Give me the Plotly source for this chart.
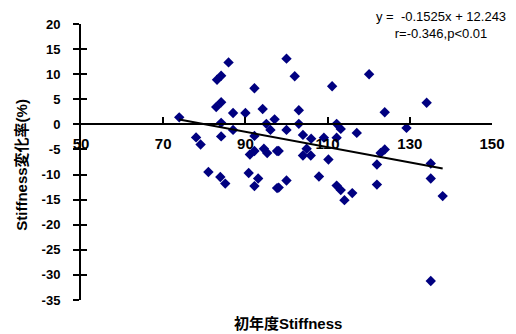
import plotly.graph_objects as go

# Data
stiffness_initial = [
    73.9, 78.0, 79.1, 81.0, 82.9, 84.1, 83.1, 84.1, 85.9, 84.1,
    84.1, 83.9, 85.1, 87.0, 87.0, 90.0, 92.2, 94.2, 92.2, 91.1,
    92.2, 94.5, 95.3, 97.7, 90.8, 93.1, 92.2, 97.7, 97.1, 95.1,
    96.1, 100.0, 102.0, 111.1, 120.1, 103.0, 123.9, 103.0, 112.2, 113.2,
    100.0, 117.1, 104.0, 106.0, 109.1, 112.2, 98.1, 104.9, 104.0, 105.9,
    110.2, 122.0, 122.9, 123.9, 107.9, 100.0, 98.1, 112.2, 113.2, 116.0,
    114.1, 122.0, 134.1, 129.2, 135.1, 135.1, 138.0, 135.1,
]
stiffness_change = [
    1.4, -2.6, -4.0, -9.5, 3.45, 4.4, 8.9, 9.7, 12.35, 0.3,
    -2.4, -10.5, -11.8, 2.25, -1.1, 2.25, 7.2, 3.05, -2.3, -6.0,
    -5.3, -4.85, -5.7, -5.3, -9.7, -10.8, -12.3, -12.7, 1.0, 0.1,
    -1.1, 13.1, 9.6, 7.6, 10.0, 2.8, 2.4, 0.1, 0.1, -0.9,
    -1.1, -1.7, -2.1, -2.85, -2.65, -2.65, -5.3, -4.85, -6.2, -6.2,
    -7.0, -8.0, -5.7, -5.0, -10.4, -11.2, -12.6, -12.2, -13.1, -13.7,
    -15.1, -12.0, 4.3, -0.7, -7.8, -10.8, -14.3, -31.2,
]

slope = -0.1525
intercept = 12.243
trend_x = [min(stiffness_initial), max(stiffness_initial)]
trend_y = [slope * v + intercept for v in trend_x]

x_tickvals = [50, 70, 90, 110, 130, 150]
y_tickvals = [20, 15, 10, 5, 0, -5, -10, -15, -20, -25, -30, -35]
y_ticktext = ["20", "15", "10", "5", "0", "-5", "-10", "-15", "-20", "-25", "-30", "-35"]

equation_text = "y =  -0.1525x + 12.243<br>r=-0.346,p<0.01"
x_title = "初年度Stiffness"
y_title = "Stiffness変化率(%)"

FONT = "Liberation Sans, Arial, Noto Sans CJK JP, sans-serif"
CJK_FONT = "Liberation Sans, Noto Sans CJK JP, sans-serif"

fig = go.Figure()
fig.add_trace(go.Scatter(
    x=stiffness_initial, y=stiffness_change, mode="markers",
    marker=dict(symbol="diamond", size=8, color="#000080", line=dict(width=0)),
    showlegend=False, hoverinfo="skip",
))
fig.add_trace(go.Scatter(
    x=trend_x, y=trend_y, mode="lines", yaxis="y2",
    line=dict(color="black", width=2), showlegend=False, hoverinfo="skip",
))

y_min, y_max = -35, 20
fig.update_layout(
    width=516, height=334,
    margin=dict(l=81, r=24, t=24, b=34),
    plot_bgcolor="white", paper_bgcolor="white",
    font=dict(family=FONT, color="black"),
    xaxis=dict(
        range=[50, 150], tickvals=x_tickvals, anchor="free",
        position=(0 - y_min) / (y_max - y_min),
        showline=True, linecolor="black", linewidth=2,
        ticks="inside", ticklen=6, tickwidth=2, tickcolor="black",
        showgrid=False, zeroline=False,
        tickfont=dict(size=15, family=FONT, weight="bold"),
        ticklabelstandoff=6,
    ),
    yaxis=dict(
        range=[y_min, y_max], tickvals=y_tickvals, ticktext=y_ticktext,
        showline=True, linecolor="black", linewidth=2,
        ticks="outside", ticklen=6, tickwidth=2, tickcolor="black",
        showgrid=False, zeroline=False,
        tickfont=dict(size=13, family=FONT, weight="bold"),
        ticklabelstandoff=10,
    ),
    yaxis2=dict(
        range=[y_min, y_max], tickvals=y_tickvals, overlaying="y",
        side="left", anchor="x",
        showline=False, ticks="inside", ticklen=6, tickwidth=2, tickcolor="black",
        showticklabels=False, showgrid=False, zeroline=False,
    ),
    annotations=[
        dict(text=equation_text, xref="paper", yref="paper",
             x=(441 - 81) / 411, y=1 + (24 - 25) / 276.5, xanchor="center", yanchor="middle",
             showarrow=False, align="center",
             font=dict(size=13, family=FONT, color="black")),
        dict(text=x_title, xref="paper", yref="paper",
             x=(288 - 81) / 411, y=-(324 - 300) / 276.5, xanchor="center", yanchor="middle",
             showarrow=False, font=dict(size=15, family=CJK_FONT, weight="bold")),
        dict(text=y_title, xref="paper", yref="paper", textangle=-90,
             x=(22 - 81) / 411, y=0.49, xanchor="center", yanchor="middle",
             showarrow=False, font=dict(size=15, family=CJK_FONT, weight="bold")),
    ],
)

fig.write_html("out.html", config={"displayModeBar": False},
               post_script="document.body.style.margin='0px';")
